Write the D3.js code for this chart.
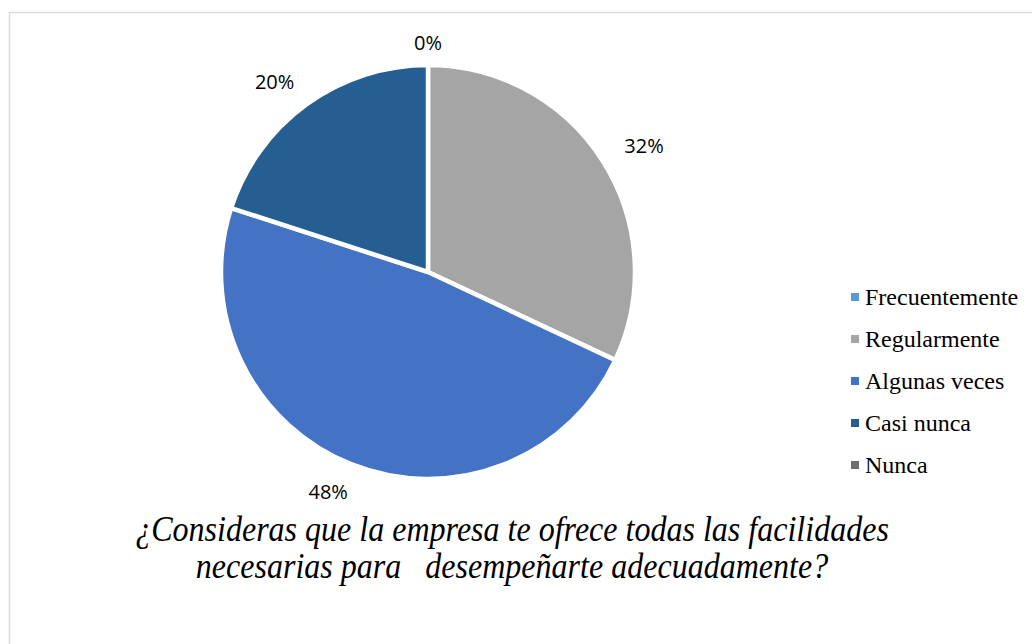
<!DOCTYPE html>
<html>
<head>
<meta charset="utf-8">
<script src="https://cdn.jsdelivr.net/npm/d3@7"></script>
<style>
  html, body { margin: 0; padding: 0; background: #fff; }
  svg { display: block; }
</style>
</head>
<body>
<svg id="chart" width="1032" height="644"></svg>
<script>
// Survey answers and their share of responses (%)
const categories = ["Frecuentemente", "Regularmente", "Algunas veces", "Casi nunca", "Nunca"];
const values = [0, 32, 48, 20, 0];
const colors = ["#5B9BD5", "#A5A5A5", "#4472C4", "#255E91", "#6E6E6E"];
const titleLines = ["¿Consideras que la empresa te ofrece todas las facilidades",
                    "necesarias para   desempeñarte adecuadamente?"];

const svg = d3.select("#chart");

// Chart frame
svg.append("rect")
  .attr("x", 9.5).attr("y", 12.5)
  .attr("width", 1040).attr("height", 660)
  .attr("fill", "none")
  .attr("stroke", "#D9D9D9")
  .attr("stroke-width", 1.5);

const cx = 428, cy = 272, radius = 207;
const g = svg.append("g").attr("transform", `translate(${cx},${cy})`);

const data = categories.map((c, i) => ({ name: c, value: values[i], color: colors[i] }));
const pie = d3.pie().value(d => d.value).sort(null);
const arcs = pie(data);
const arc = d3.arc().innerRadius(0).outerRadius(radius);

g.selectAll("path.slice")
  .data(arcs.filter(d => d.data.value > 0))
  .join("path")
  .attr("class", "slice")
  .attr("d", arc)
  .attr("fill", d => d.data.color)
  .attr("stroke", "#fff")
  .attr("stroke-width", 4.5)
  .attr("stroke-linejoin", "miter");

// Value labels outside the slices; zero-value slices share one label at the top
const labelRx = 244, labelRy = 236, zeroR = 230;
const shown = arcs.filter((d, i) => d.data.value > 0 || i === 0);
g.selectAll("text.val")
  .data(shown)
  .join("text")
  .attr("class", "val")
  .attr("transform", d => {
    const a = (d.startAngle + d.endAngle) / 2;
    const zero = d.data.value === 0;
    const s = Math.sin(a), c = Math.cos(a);
    // push the label box sideways so it sits clear of the rim
    const x = zero ? 0 : labelRx * s + 10 * Math.sign(s);
    const y = -(zero ? zeroR : labelRy) * c;
    return `translate(${x},${y})`;
  })
  .attr("text-anchor", "middle")
  .attr("dominant-baseline", "central")
  .attr("font-family", "'Open Sans', 'Noto Sans', sans-serif")
  .attr("font-size", 20)
  .attr("fill", "#000")
  .text(d => d3.format(".0%")(d.data.value / 100));

// Legend
const legend = svg.append("g").attr("transform", "translate(851,297)");
const items = legend.selectAll("g.item")
  .data(data)
  .join("g")
  .attr("class", "item")
  .attr("transform", (d, i) => `translate(0,${i * 42})`);
items.append("rect")
  .attr("x", 0).attr("y", -4)
  .attr("width", 8).attr("height", 8)
  .attr("fill", d => d.color);
items.append("text")
  .attr("x", 14).attr("y", 0)
  .attr("dominant-baseline", "central")
  .attr("font-family", "'Liberation Serif', 'Times New Roman', serif")
  .attr("font-size", 24)
  .attr("fill", "#000")
  .text(d => d.name);

// Title under the pie (narrowed serif italic)
svg.append("g")
  .attr("transform", "translate(512,0) scale(0.89,1)")
  .append("text")
  .attr("text-anchor", "middle")
  .attr("font-family", "'Liberation Serif', 'Times New Roman', serif")
  .attr("font-style", "italic")
  .attr("font-size", 36)
  .attr("fill", "#000")
  .attr("xml:space", "preserve")
  .style("white-space", "pre")
  .selectAll("tspan")
  .data(titleLines)
  .join("tspan")
  .attr("x", 0)
  .attr("y", (d, i) => 541 + i * 37)
  .text(d => d);
</script>
</body>
</html>
